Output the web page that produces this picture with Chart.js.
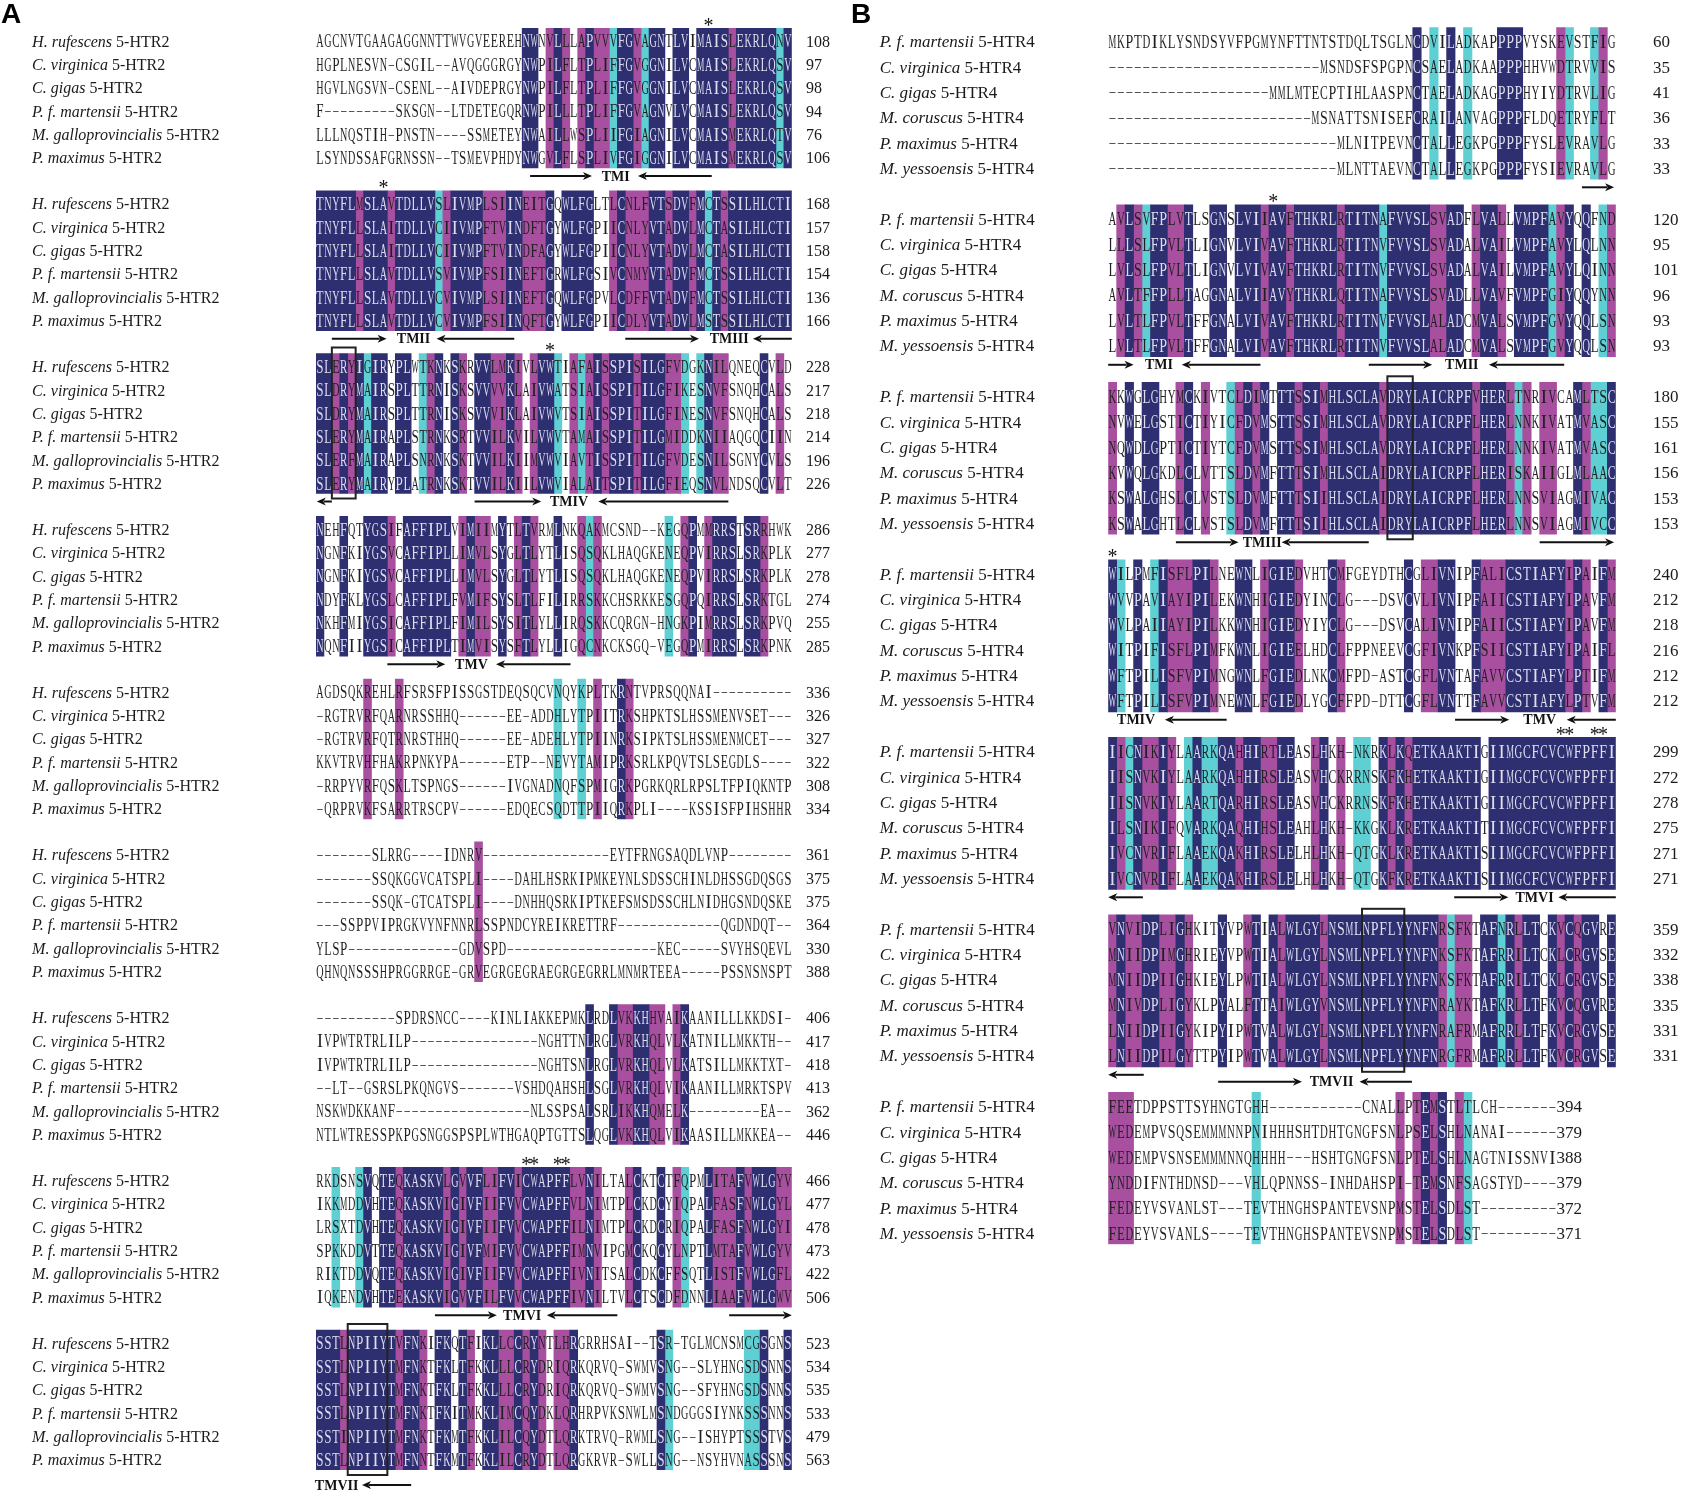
<!DOCTYPE html>
<html>
<head>
<meta charset="utf-8">
<script src="https://cdn.jsdelivr.net/npm/chart.js@4.4.1/dist/chart.umd.min.js"></script>
<style>
html, body { margin: 0; padding: 0; background: #fff; }
#wrap { position: relative; width: 1682px; height: 1493px; overflow: hidden; }
canvas { position: absolute; top: 0; }
#chartA { left: 0; }
#chartB { left: 850px; }
</style>
</head>
<body>
<div id="wrap">
  <canvas id="chartA" width="850" height="1493"></canvas>
  <canvas id="chartB" width="832" height="1493"></canvas>
</div>
<script>
// ---- panel A : 5-HTR2 ----
const namesA = ['H. rufescens', 'C. virginica', 'C. gigas', 'P. f. martensii', 'M. galloprovincialis', 'P. maximus'];

const seqA = [
  ['AGCNVTGAAG' + 'AGGNNTTWVG' + 'VEEREHNWNV' + 'LLLAPVVVFG' + 'VAGNTLVIMA' + 'ISLEKRLQNV',
   'HGPLNESVN-' + 'CSGIL--AVQ' + 'GGGRGYNWPI' + 'LFLTPLIFFG' + 'VGGNILVCMA' + 'ISLEKRLQSV',
   'HGVLNGSVN-' + 'CSENL--AIV' + 'DEPRGYNWPI' + 'LFLTPLIFFG' + 'VGGNILVCMA' + 'ISLEKRLQSV',
   'F---------' + 'SKSGN--LTD' + 'ETEGQRNWPI' + 'LLLTPLIFFG' + 'VAGNVLVCMA' + 'ISLEKRLQSV',
   'LLLNQSTIH-' + 'PNSTN----S' + 'SMETEYNWAI' + 'LLWSPLIIFG' + 'IAGNILVCMA' + 'ISMEKRLQTV',
   'LSYNDSSAFG' + 'RNSSN--TSM' + 'EVPHDYNWGV' + 'LFLSPLIVFG' + 'IGGNILVCMA' + 'ISMEKRLQSV'],
  ['TNYFLMSLAVTDLLVSLIVMPLSIINEITGQWLFGLTLCNLFVTSDVFMCTSSILHLCTI',
   'TNYFLLSLAITDLLVCIIVMPFTVINDFTGYWLFGPIICNLYVTADVLMCTASILHLCTI',
   'TNYFLLSLAITDLLVCIIVMPFTVINDFAGYWLFGPIICNLYVTADVLMCTASILHLCTI',
   'TNYFLLSLAVTDLLVSVIVMPFSIINEFTGRWLFGSIVCNMYVTADVFMCTSSILHLCTI',
   'TNYFLLSLAVTDLLVCVIVMPLSIINEFTGQWLFGPVLCDFFVTADVFMCTSSILHLCTI',
   'TNYFLLSLAVTDLLVCVIVMPFSIINQFTGYWLFGPIICDLYVTADVLMSTSSILHLCTI'],
  ['SLERYIGIRYPLWTKNKSKRVVLMKIVLVWTIAFAISSPISILGFVDGKNILQNEQCVLD',
   'SLDRYMAIRSPLTTRNISKSVVVVKLAIVWATSIAISSPITILGFIKESNVFSNQHCALS',
   'SLDRYMAIRSPLTTRNISKSVVVIKLAIVWVTSIAISSPITILGFINESNVFSNQHCALS',
   'SLERYMAIRAPLSTRNKSRTVVILKVILVWVTAMAISSPITILGMIDDKNIIAQGQCIIN',
   'SLERFMAIRAPLSNRNKSKTVVILKIIMVWVIAVTISSPITILGFVDESNILSGNYCVLS',
   'SLERYMAIRYPLATRNKSKTVVILKIILVWVIALAITSPITILGFIEQSNVLNDSQCVLT'],
  ['NEHFQTYGSIFAFFIPLVIMIIMYTLTVRMLNKQAKMCSND--KEGQPMMRRSTSRRHWK',
   'NGNFKIYGSVCAFFIPLLIMVLSYGLTLYTLISQSQKLHAQGKENEQPVIRRSLSRKPLK',
   'NGNFKIYGSVCAFFIPLLIMVLSYGLTLYTLISQSQKLHAQGKENEQPVIRRSLSRKPLK',
   'NDYFKLYGSLCAFFIPLFVMIFSYSLTLFILIRRSKKCHSRKKESGQPQIRRSLSRKTGL',
   'NKHFMIYGSICAFFIPLFIMILSYSITLYLLIRQSKKCQRGN-HNGKPIMRRSLSRKPVQ',
   'NQNFIIYGSICAFFIPLTIMVISYSFTLYLLIGQCNKCKSGQ-VEGQPMIRRSLSRKPNK'],
  ['AGDSQKREHL' + 'RFSRSFPISS' + 'GSTDEQSQCV' + 'NQYKPLTKRN' + 'TVPRSQQNAI' + '----------',
   '-RGTRVRFQA' + 'RNRSSHHQ--' + '----EE-ADD' + 'HLYTPIITRK' + 'SHPKTSLHSS' + 'MENVSET---',
   '-RGTRVRFQT' + 'RNRSTHHQ--' + '----EE-ADE' + 'HLYTPIINRK' + 'SIPKTSLHSS' + 'MENMCET---',
   'KKVTRVHFHA' + 'KRPNKYPA--' + '----ETP--N' + 'EVYTAMIPRK' + 'SRLKPQVTSL' + 'SEGDLS----',
   '-RRPYVRFQS' + 'KLTSPNGS--' + '----IVGNAD' + 'NQFSPMIGRK' + 'PGRKQRLRPS' + 'LTFPIQKNTP',
   '-QRPRVKFSA' + 'RRTRSCPV--' + '----EDQECS' + 'QDTTPIIQRK' + 'PLI----KSS' + 'ISFPIHSHHR'],
  ['-------SLR' + 'RG----IDNR' + 'V---------' + '-------EYT' + 'FRNGSAQDLV' + 'NP--------',
   '-------SSQ' + 'KGGVCATSPL' + 'I----DAHLH' + 'SRKIPMKEYN' + 'LSDSSCHINL' + 'DHSSGDQSGS',
   '-------SSQ' + 'K-GTCATSPL' + 'I----DNHHQ' + 'SRKIPTKEFS' + 'MSDSSCHLNI' + 'DHGSNDQSKE',
   '---SSPPVIP' + 'RGKVYNFNNR' + 'LSSPNDCYRE' + 'IKRETTRF--' + '----------' + '-QGDNDQT--',
   'YLSP------' + '--------GD' + 'VSPD------' + '----------' + '---KEC----' + '-SVYHSQEVL',
   'QHNQNSSSHP' + 'RGGRRGE-GR' + 'VEGRGEGRAE' + 'GRGEGRRLMN' + 'MRTEEA----' + '-PSSNSNSPT'],
  ['----------' + 'SPDRSNCC--' + '--KINLIAKK' + 'EPMKLRDLVK' + 'KHHVAIKAAN' + 'ILLLKKDSI-',
   'IVPWTRTRLI' + 'LP--------' + '--------NG' + 'HTTNLRGLVR' + 'KHQLVLKATN' + 'ILLMKKTH--',
   'IVPWTRTRLI' + 'LP--------' + '--------NG' + 'HTSNLRGLVR' + 'KHQLVLKATS' + 'ILLMKKTXT-',
   '--LT--GSRS' + 'LPKQNGVS--' + '-----VSHDQ' + 'AHSHLSGLVR' + 'KHQLVIKAAN' + 'ILLMRKTSPV',
   'NSKWDKKANF' + '----------' + '-------NLS' + 'SPSALSRLIK' + 'KHQMELK---' + '------EA--',
   'NTLWTRESSP' + 'KPGSNGGSPS' + 'PLWTHGAQPT' + 'GTTSLQGLVK' + 'KHQLVIKAAS' + 'ILLMKKEA--'],
  ['RKDSNSVQTEQKASKVLGVVFLIFVICWAPFFLVNILTALCKTCTFQPMLITAFVWLGYV',
   'IKKMDDVHTEQKASKVIGIVFIIFVVCWAPFFVLNIMTPLCKDCYIQPALFASFNWLGYL',
   'LRSXTDVHTEQKASKVIGIVFIIFVVCWAPFFILNIMTPLCKDCRIQPALFASFNWLGYI',
   'SPKKDDVTTEQKASKVIGIVFMIFVVCWAPFFIMNVIPGMCKQCYLNPTLMTAFVWLGYV',
   'RIKTDDVQTEQKASKVIGIVFIIFVVCWAPFFIVNITSALCDKCFFSQTLISTFVWLGFL',
   'IQKENDVHTEEKASKVIGVVFILFVVCWAPFFIVNILTVLCTSCDFDNNLIAAFVWLGWV'],
  ['SSTLNPIIYT' + 'VFNKIFKQTF' + 'IKLLCCRYNT' + 'LHRGRRHSAI' + '--TSR-TGLM' + 'CNSMCGSGNS',
   'SSTLNPIIYT' + 'MFNKTFKLTF' + 'KKLLLCRYDR' + 'IQRKQRVQ-S' + 'WMVSNG--SL' + 'YHNGSDSNNS',
   'SSTLNPIIYT' + 'MFNKTFKLTF' + 'KKLLLCRYDR' + 'IQRKQRVQ-S' + 'WMVSNG--SF' + 'YHNGSDSNNS',
   'SSTLNPIIYT' + 'MFNKTFKITM' + 'KKLIMCQYDK' + 'LQRHRPVKSN' + 'WLMSNDGGGS' + 'IYNKSSSNNS',
   'SSTINPIIYT' + 'MFNKTFKMTF' + 'KKLILCQYDT' + 'LQRKTRVQ-R' + 'WMLSNG--IS' + 'HYPTSSSTVS',
   'SSTLNPIIYT' + 'MFNNTFKMTF' + 'KKLILCRYDT' + 'LQRGKRVR-S' + 'WLLSNG--NS' + 'YHVNASSSNS']
];

// column shading per block: n = 100 %, m = high, c = medium, . = none
const shadeA = [
  '..........' + '..........' + '......nn.m' + 'nm.mnmmcnn' + 'mcnn.nn.nn' + 'nnmnnnnncn',
  'nnnnnmnnnm' + 'nnnnncmnnn' + 'nmmmnnmmmn' + '.nnnn..mnm' + 'mmnnmnnmnc' + 'nmnnnnnnnn',
  'nnmnmncnn.' + 'nn.cmn.nm.' + 'nnmmnm.mnn' + 'c.mcmnmnnn' + 'mnnnmmc.cn' + 'mm....n.m.',
  'n..n..nnnm' + '.nnnnnn.mn' + 'mm.n.mnm..' + 'n..mcm....' + '....c.mn.m' + 'nnn.nnm...',
  '......m...' + 'm.........' + '..........' + 'c..c.m..nm' + '..........' + '..........',
  '..........' + '..........' + 'm.........' + '..........' + '..........' + '..........',
  '..........' + '..........' + '..........' + '....n..nmm' + 'nnmm.mn...' + '..........',
  '..c..cn.nn' + 'mnnnnnmnmn' + 'nmmnnmnnnn' + 'nnmmnm...m' + 'n..n.mc..n' + 'mmmnmnnnmm',
  'nnnmnnnnnn' + 'mnnm.nn.nm' + '.nnmmnmnm.' + 'mmn.......' + '...nc.....' + '....ccn..n'
];

const endsA = [
  [108, 97, 98, 94, 76, 106],
  [168, 157, 158, 154, 136, 166],
  [228, 217, 218, 214, 196, 226],
  [286, 277, 278, 274, 255, 285],
  [336, 326, 327, 322, 308, 334],
  [361, 375, 375, 364, 330, 388],
  [406, 417, 418, 413, 362, 446],
  [466, 477, 478, 473, 422, 506],
  [523, 534, 535, 533, 479, 563]
];

// [block, fromCol, toCol, direction, low]
const arrowsA = [[0, 27, 34.8, 1], [0, 40.6, 49.9, -1], [1, 2, 8.9, 1], [1, 15.2, 25, -1],
  [1, 39, 48.3, 1], [1, 55.1, 60, -1], [2, 0.1, 2, -1], [2, 20, 28.4, 1], [2, 35.6, 52, -1],
  [3, 9, 16.3, 1], [3, 22.7, 32.1, -1], [7, 15, 22.8, 1], [7, 29.1, 38, -1], [7, 52.1, 60, 1],
  [8, 5.8, 12, -1, 1]];
const tmLabelsA = [[0, 37.8, 'TMI'], [1, 12.3, 'TMII'], [1, 52.1, 'TMIII'], [2, 31.9, 'TMIV'],
  [3, 19.6, 'TMV'], [7, 26, 'TMVI'], [8, 2.6, 'TMVII', 1]];
const starsA = [[0, 49], [1, 8], [2, 29], [7, 26], [7, 27], [7, 30], [7, 31]];
const boxesA = [[2, 2, 5], [8, 4, 9]];

// ---- panel B : 5-HTR4 ----
const namesB = ['P. f. martensii', 'C. virginica', 'C. gigas', 'M. coruscus', 'P. maximus', 'M. yessoensis'];

const seqB = [
  ['MKPTDIKLYS' + 'NDSYVFPGMY' + 'NFTTNTSTDQ' + 'LTSGLNCDVI' + 'LADKAPPPPV' + 'YSKEVSTFIG',
   '----------' + '----------' + '-----MSNDS' + 'FSPGPNCSAE' + 'LADKAAPPPH' + 'HVWDTRVVIS',
   '----------' + '---------M' + 'MLMTECPTIH' + 'LAASPNCTAE' + 'LADKAGPPPH' + 'YIYDTRVLIG',
   '----------' + '----------' + '----MSNATT' + 'SNISEFCRAI' + 'LANVAGPPPF' + 'LDQETRYFLT',
   '----------' + '----------' + '-------MLN' + 'ITPEVNCTAL' + 'LEGKPGPPPF' + 'YSLEVRAVLG',
   '----------' + '----------' + '-------MLN' + 'TTAEVNCTAL' + 'LEGKPGPPPF' + 'YSIEVRAVLG'],
  ['AVLSVFPLVTLSGNSLVIIAVFTHKRLRTITNAFVVSLSVADFLVALLVMPFAVYQQFND',
   'LLLSLFPVLTLIGNVLVIVAVFTHKRLRTITNVFVVSLSVADALVAILVMPFAVYLQLNN',
   'LVLSLFPVLTLIGNVLVIVAVFTHKRLRTITNVFVVSLSVADALVAILVMPFAVYLQINN',
   'AVLTFFPLLTAGGNALVIIAVYTHKRLQTITNAFVVSLSVADLLVAVFVMPFGIYQQYNN',
   'LVLTLFPVLTFFGNALVIVAVFTHKRLRTITNVFVVSLALADCMVALSVMPFGVYQQLSN',
   'LVLTLFPVLTFFGNALVIVAVFTHKRLRTITNVFVVSLALADCMVALSVMPFGVYQQLSN'],
  ['KKWGLGHYMCKIVTCLDIMTTTSSIMHLSCLAVDRYLAICRPFVHERLTNRIVCAMLTSC',
   'NVWELGSTICTIYICFDVMSTTSSIMHLSCLAVDRYLAICRPFLHERLNNKIVATMVASC',
   'NQWDLGPTICTIYTCFDVMSTTSSIMHLSCLAVDRYLAICRPFLHERLNNKIVATMVASC',
   'KVWQLGKDLCLVTTSLDVMFTTTSIMHLSCLAIDRYLAICRPFLHERISKAIIGLMLAAC',
   'KSWALGHSLCLVSTSLDVMFTTTSIIHLSCLAIDRYLAICRPFLHERLNNSVIAGMIVAC',
   'KSWALGHTLCLVSTSLDVMFTTTSIIHLSCLAIDRYLAICRPFLHERLNNSVIAGMIVCC'],
  ['WILPMFISFL' + 'PILNEWNLIG' + 'IEDVHTCMFG' + 'EYDTHCGLIV' + 'NIPFALICST' + 'IAFYIPAIFM',
   'WVVPAVIAYI' + 'PILEKWNHIG' + 'IEDYINCLG-' + '--DSVCVLIV' + 'NIPFAIICST' + 'IAFYIPAVFM',
   'WVLPAIIAYI' + 'PILKKWNHIG' + 'IEDYIYCLG-' + '--DSVCALIV' + 'NIPFAIICST' + 'IAFYIPAVFM',
   'WITPIFISFL' + 'PIMFKWNLIG' + 'IEELHDCLFP' + 'PNEEVCGFIV' + 'NKPFSIICST' + 'IAFYIPAIFL',
   'WFTPILISFV' + 'PIMNGWNLFG' + 'IEDLNKCMFP' + 'D-ASTCGFLV' + 'NTAFAVVCST' + 'IAFYLPTIFM',
   'WFTPILISFV' + 'PIMNEWNLFG' + 'IEDLYGCFFP' + 'D-DTTCGFLV' + 'NTTFAVVCST' + 'IAFYLPTVFM'],
  ['IICNIKIYLA' + 'ARKQAHHIRT' + 'LEASLHKH-N' + 'KRKLKQETKA' + 'AKTIGIIMGC' + 'FCVCWFPFFI',
   'IISNVKIYLA' + 'ARKQAHHIRS' + 'LEASVHCKRR' + 'NSKFKHETKA' + 'AKTIGIIMGC' + 'FCVCWFPFFI',
   'IISNVKIYLA' + 'ARTQARHIRS' + 'LEASVHCKRR' + 'NSKFKHETKA' + 'AKTIGIIMGC' + 'FCVCWFPFFI',
   'ILSNIKIFQV' + 'ARKQAQHIHS' + 'LEAHLHKH-K' + 'KGKLKRETKA' + 'AKTITIIMGC' + 'FCVCWFPFFI',
   'IVCNVRIFLA' + 'AEKQAKHIRS' + 'LELHLHKH-Q' + 'TGKLKRETKA' + 'AKTISIIMGC' + 'FCVCWFPFFI',
   'IVCNVRIFLA' + 'AEKQAKHIRS' + 'LELHLHKH-Q' + 'TGKFKRETKA' + 'AKTISIIMGC' + 'FCVCWFPFFI'],
  ['VNVIDPLIGHKITYVPWTIALWLGYLNSMLNPFLYYNFNRSFKTAFNRLLTCKVCQGVRE',
   'MNIIDPIMGHRIEYVPWTIALWLGYLNSMLNPFLYYNFNKSFKTAFRRILTCKLCRGVSE',
   'MNIIDPIIGHKIEYLPWTIALWLGYLNSMLNPFLYYNFNKSFKTAFRRILTCKLCRGVSE',
   'MNIVDPLIGYKLPYALFTTAIWLGYVNSMLNPFLYYNFNRAYKTAFKRLLTFKVCQGVRE',
   'LNIIDPIIGYKIPYIPWTVALWLGYLNSMLNPFLYYNFNRAFRMAFRRLLTFKVCRGVSE',
   'LNIIDPILGYTTPYIPWTVALWLGYLNSMLNPFLYYNFNRGFRMAFRRLLTFKVCRGVSE'],
  ['FEETDPPSTT' + 'SYHNGTGHH-' + '----------' + 'CNALLPTEMS' + 'TLTLCH----' + '---',
   'WEDEMPVSQS' + 'EMMMNNPNIH' + 'HHSHTDHTGN' + 'GFSNLPSELS' + 'HLNANAI---' + '---',
   'WEDEMPVSNS' + 'EMMMNNQHHH' + 'H---HSHTGN' + 'GFSNLPTELS' + 'HLNAGTNISS' + 'NVI',
   'YNDDIFNTHD' + 'NSD---VHLQ' + 'PNNSS-INHD' + 'AHSPI-TEMS' + 'NFSAGSTYD-' + '---',
   'FEDEYVSVAN' + 'LST---TEVT' + 'HNGHSPANTE' + 'VSNPMSTELS' + 'DLST------' + '---',
   'FEDEYVSVAN' + 'LS----TEVT' + 'HNGHSPANTE' + 'VSNPMSTELS' + 'DLST------' + '---']
];

const shadeB = [
  '..........' + '..........' + '..........' + '......n.c.' + 'n.c...nnn.' + '...mc..cm.',
  '.mnmcnnmmn' + '..nn.nnnmn' + 'nmnnnnnmnn' + 'nncnnnnnmm' + 'nn.mnnm.nn' + 'nncmn.n.cm',
  'm.n.nn..mn' + '.m..cmnmn.' + 'nnmnnmnnnn' + 'nnmnnnnnnn' + 'nnnmnnnmcm' + '.mm..nmccn',
  'nc.n.cnmmm' + 'nnm..nn.mn' + 'nnm...nm..' + '.....n.mmn' + 'n..nmmmnnn' + 'nnnnmnm.nm',
  'nmcnmmnm.c' + 'nccnnmnnmm' + 'nn..mn.m.c' + 'c.nmnmnnnn' + 'nnnn.nnnnn' + 'nnnnnnnnnn',
  'mnmmnnmmnm' + '...n..mn.n' + 'mnnnnmnnnn' + 'nnnnnnnnnm' + 'cmm.nncnmn' + 'n.nmnmnn.n',
  'mmm.......' + '.......c..' + '..........' + '....m.mnmn' + '.mc.......' + '...'
];

const endsB = [
  [60, 35, 41, 36, 33, 33],
  [120, 95, 101, 96, 93, 93],
  [180, 155, 161, 156, 153, 153],
  [240, 212, 218, 216, 212, 212],
  [299, 272, 278, 275, 271, 271],
  [359, 332, 338, 335, 331, 331],
  [394, 379, 388, 379, 372, 371]
];

const arrowsB = [[0, 56, 59.8, 1], [1, 0, 3, 1], [1, 8.7, 18, -1], [1, 30.8, 38.3, 1], [1, 45, 53.9, -1],
  [2, 8, 15.4, 1], [2, 20.5, 30.8, -1], [2, 51, 59.8, 1], [3, 6.7, 14, -1], [3, 41, 47.4, 1],
  [3, 54.2, 60, -1], [4, 0, 4.1, -1], [4, 40.9, 47.3, 1], [4, 53.2, 60, -1], [5, 0, 4.2, -1],
  [5, 13, 22.9, 1, 1], [5, 29.7, 35.9, -1, 1]];
const tmLabelsB = [[1, 6, 'TMI'], [1, 41.8, 'TMII'], [2, 18.2, 'TMIII'], [3, 3.3, 'TMIV'],
  [3, 51, 'TMV'], [4, 50.4, 'TMVI'], [5, 26.4, 'TMVII', 1]];
const starsB = [[1, 19], [3, 0], [4, 53], [4, 54], [4, 57], [4, 58]];
const boxesB = [[2, 33, 36], [5, 30, 35]];

const NAVY = '#2e2f70', PURPLE = '#a8509f', CYAN = '#5ecfd3';
const SERIF = '"Liberation Serif", "Times New Roman", serif';

// contiguous runs of one shade -> floating horizontal bars
function shadeRuns(shades, step) {
  const out = { n: [], m: [], c: [] };
  shades.forEach((s, b) => {
    let start = 0;
    for (let i = 1; i <= s.length; i++) {
      if (i === s.length || s[i] !== s[start]) {
        if (out[s[start]]) out[s[start]].push({ x: [start, i], y: b * step + 3 });
        start = i;
      }
    }
  });
  return out;
}

function drawArrow(ctx, xa, xb, y, dir) {
  const head = 9, hw = 4;
  ctx.lineWidth = 2;
  ctx.beginPath();
  if (dir > 0) { ctx.moveTo(xa, y); ctx.lineTo(xb - head + 2, y); }
  else { ctx.moveTo(xa + head - 2, y); ctx.lineTo(xb, y); }
  ctx.stroke();
  const tip = dir > 0 ? xb : xa;
  const s = dir > 0 ? -1 : 1;
  ctx.beginPath();
  ctx.moveTo(tip, y);
  ctx.lineTo(tip + s * head, y - hw);
  ctx.lineTo(tip + s * (head - 2.5), y);
  ctx.lineTo(tip + s * head, y + hw);
  ctx.closePath();
  ctx.fill();
}

function textPlugin(P) {
  return {
    id: 'seqText' + P.letter,
    afterDatasetsDraw(chart) {
      const ctx = chart.ctx;
      const X = v => chart.scales.x.getPixelForValue(v);
      const Y = v => chart.scales.y.getPixelForValue(v);
      const cellW = X(1) - X(0);
      ctx.save();

      ctx.fillStyle = '#000';
      ctx.font = 'bold 28px "Liberation Sans", Arial, sans-serif';
      ctx.textAlign = 'left';
      ctx.textBaseline = 'top';
      ctx.fillText(P.letter, 1, 1);
      ctx.textBaseline = 'alphabetic';

      P.seqs.forEach((rows, b) => {
        const top = b * P.step;
        rows.forEach((seq, k) => {
          const cy = Y(top + k + 0.5);
          // species name + gene
          const nameBase = cy + P.nameDy;
          ctx.fillStyle = '#1a1a1a';
          ctx.textAlign = 'left';
          ctx.font = 'italic ' + P.nameFont + 'px ' + SERIF;
          const nx = X(P.nameCol);
          ctx.fillText(P.names[k], nx, nameBase);
          const nw = ctx.measureText(P.names[k] + ' ').width;
          ctx.font = P.nameFont + 'px ' + SERIF;
          ctx.fillText(P.gene, nx + nw, nameBase);
          // end position
          ctx.fillText(String(P.ends[b][k]), X(P.numCol[b]), nameBase);
          // residues
          const base = cy + P.baseDy;
          ctx.font = P.font + 'px ' + SERIF;
          ctx.textAlign = 'center';
          for (let c = 0; c < seq.length; c++) {
            const ch = seq[c];
            const x0 = X(c), x1 = X(c + 1);
            if (ch === '-') {
              ctx.strokeStyle = '#555';
              ctx.lineWidth = 1;
              const yy = Math.round(cy + P.dashDy) + 0.5;
              ctx.beginPath();
              ctx.moveTo(x0 + 1.2, yy);
              ctx.lineTo(x1 - 1.2, yy);
              ctx.stroke();
              continue;
            }
            ctx.fillStyle = P.shades[b][c] === 'n' ? '#dedef0' : '#1f1f1f';
            const gw = ctx.measureText(ch).width;
            const sc = Math.min(1, cellW * 0.92 / gw);
            ctx.save();
            ctx.translate((x0 + x1) / 2, base);
            ctx.scale(sc, 1);
            ctx.fillText(ch, 0, 0);
            ctx.restore();
          }
        });
      });

      // transmembrane arrows and labels
      ctx.strokeStyle = '#111';
      ctx.fillStyle = '#111';
      P.arrows.forEach(([b, c0, c1, dir, low]) => {
        const y = Y(b * P.step + 6) + (low ? 15 : 8);
        drawArrow(ctx, X(c0), X(c1), y, dir);
      });
      ctx.font = 'bold 14px ' + SERIF;
      ctx.textAlign = 'center';
      ctx.textBaseline = 'middle';
      P.tmLabels.forEach(([b, c, txt, low]) => {
        const y = Y(b * P.step + 6) + (low ? 15 : 8);
        ctx.fillText(txt, X(c), y + 1);
      });

      // conserved residue marks
      ctx.textBaseline = 'alphabetic';
      ctx.font = '20px ' + SERIF;
      P.stars.forEach(([b, c]) => {
        ctx.fillText('*', X(c + 0.5), Y(b * P.step) + 3.6);
      });

      // motif boxes
      ctx.strokeStyle = '#222';
      ctx.lineWidth = 2;
      P.boxes.forEach(([b, c0, c1]) => {
        const yt = Y(b * P.step) - 6, yb = Y(b * P.step + 6) + 5;
        ctx.strokeRect(X(c0), yt, X(c1) - X(c0), yb - yt);
      });
      ctx.restore();
    }
  };
}

function buildPanel(id, P) {
  const canvas = document.getElementById(id);
  const yMax = P.step * (P.seqs.length - 1) + 6;
  const rowPx = (canvas.height - P.pad.top - P.pad.bottom) / yMax;
  const runs = shadeRuns(P.shades, P.step);
  const ds = (key, color) => ({
    label: key, data: runs[key], backgroundColor: color, borderWidth: 0,
    barThickness: 6 * rowPx, grouped: false
  });
  return new Chart(canvas, {
    type: 'bar',
    data: { datasets: [ds('n', NAVY), ds('m', PURPLE), ds('c', CYAN)] },
    options: {
      indexAxis: 'y',
      responsive: false,
      animation: false,
      layout: { padding: P.pad },
      scales: {
        x: { type: 'linear', min: 0, max: 60, offset: false, display: false },
        y: { type: 'linear', min: 0, max: yMax, reverse: true, offset: false, display: false }
      },
      plugins: { legend: { display: false }, tooltip: { enabled: false } }
    },
    plugins: [textPlugin(P)]
  });
}

buildPanel('chartA', {
  letter: 'A', names: namesA, gene: '5-HTR2', seqs: seqA, shades: shadeA, ends: endsA,
  arrows: arrowsA, tmLabels: tmLabelsA, stars: starsA, boxes: boxesA,
  pad: { left: 316, right: 58.2, top: 28, bottom: 23 }, step: 6.975,
  font: 18, nameFont: 16, baseDy: 7.8, nameDy: 7, dashDy: 1.8, nameCol: -35.8,
  numCol: [61.8, 61.8, 61.8, 61.8, 61.8, 61.8, 61.8, 61.8, 61.8]
});

buildPanel('chartB', {
  letter: 'B', names: namesB, gene: '5-HTR4', seqs: seqB, shades: shadeB, ends: endsB,
  arrows: arrowsB, tmLabels: tmLabelsB, stars: starsB, boxes: boxesB,
  pad: { left: 258.2, right: 66.2, top: 27.3, bottom: 248.7 }, step: 7.007,
  font: 19, nameFont: 17, baseDy: 8, nameDy: 7.3, dashDy: 1.7, nameCol: -27,
  numCol: [64.4, 64.4, 64.4, 64.4, 64.4, 64.4, 53]
});
</script>
</body>
</html>
